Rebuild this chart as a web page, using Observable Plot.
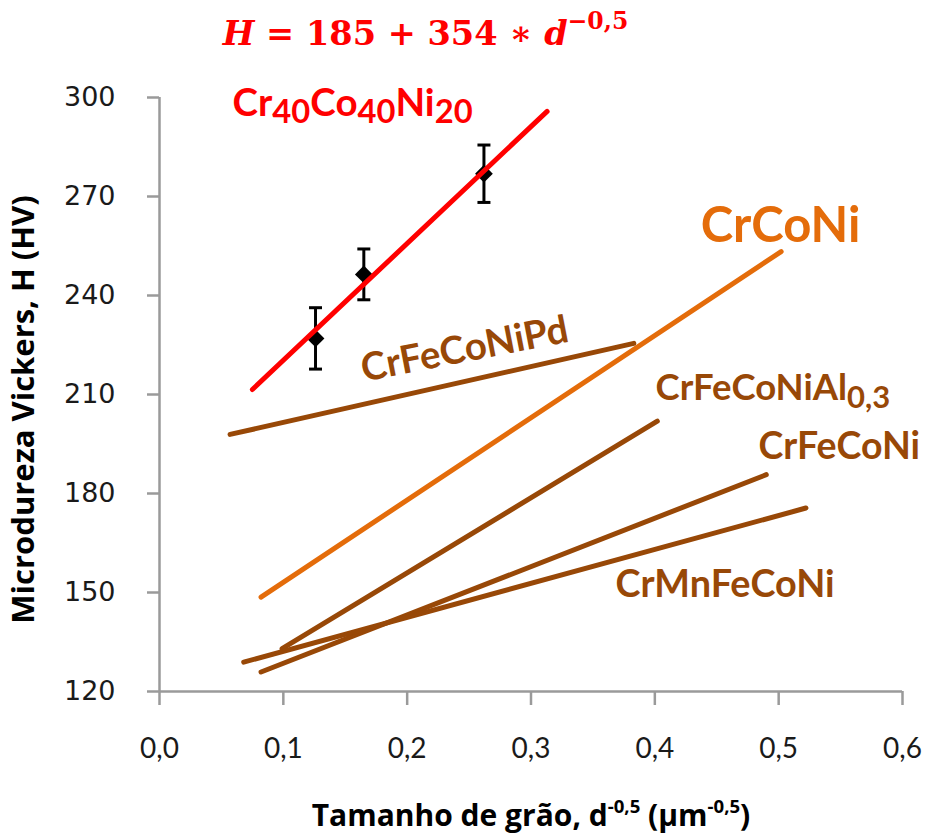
<!DOCTYPE html>
<html>
<head>
<meta charset="utf-8">
<script src="https://cdn.jsdelivr.net/npm/d3@7"></script>
<script src="https://cdn.jsdelivr.net/npm/@observablehq/plot@0.6"></script>
<style>
  html, body { margin: 0; padding: 0; background: #fff; }
  #chart svg { display: block; }
</style>
</head>
<body>
<div id="chart"></div>
<script>
// Hall–Petch fits: Vickers microhardness vs. grain size d^-0.5 for several alloys.
// Markup in strings: _{..} subscript, ^{..} superscript, ~{..} italic.

// Axis ticks
const xTicks = [0, 0.1, 0.2, 0.3, 0.4, 0.5, 0.6];
const yTicks = [120, 150, 180, 210, 240, 270, 300];

// Fitted lines, one per alloy (start and end of each segment)
const alloys = ["Cr40Co40Ni20", "CrCoNi", "CrFeCoNiPd", "CrFeCoNiAl0.3", "CrFeCoNi", "CrMnFeCoNi"];
const lineX1 = [0.075, 0.082, 0.057, 0.099, 0.082, 0.068];
const lineY1 = [211.5, 148.6, 197.9, 133.0, 125.9, 128.9];
const lineX2 = [0.313, 0.502, 0.383, 0.402, 0.490, 0.522];
const lineY2 = [295.8, 253.3, 225.5, 201.9, 185.7, 175.6];
const lineColor = ["#ff0000", "#e46c0a", "#984807", "#984807", "#984807", "#984807"];

// Measured points for Cr40Co40Ni20 with error bars
const grainX = [0.126, 0.165, 0.262];
const hardness = [227.0, 246.4, 276.9];
const hardnessErr = [9.3, 7.7, 8.7];

// Labels
const labelText = ["Cr_{40}Co_{40}Ni_{20}", "CrCoNi", "CrFeCoNiPd", "CrFeCoNiAl_{0,3}", "CrFeCoNi", "CrMnFeCoNi"];
const labelX = [0.059, 0.437, 0.165, 0.4006, 0.4838, 0.3683];
const labelY = [294.5, 256.2, 213.9, 208.2, 190.6, 148.6];
const labelRotate = [0, 0, -11, 0, 0, 0];
const labelSize = [38.5, 49, 38.5, 36.5, 37.5, 37.8];

const formula = "~{H} = 185 + 354 ∗ ~{d}^{−0,5}";
const formulaX = 0.051;
const formulaY = 315.8;

const xLabel = "Tamanho de grão, d^{-0,5} (µm^{-0,5})";
const yLabel = "Microdureza Vickers, H (HV)";

const lines = alloys.map((a, i) => ({alloy: a, x1: lineX1[i], y1: lineY1[i], x2: lineX2[i], y2: lineY2[i], color: lineColor[i]}));
const points = grainX.map((x, i) => ({x, y: hardness[i], lo: hardness[i] - hardnessErr[i], hi: hardness[i] + hardnessErr[i]}));
const labels = labelText.map((t, i) => ({text: t, x: labelX[i], y: labelY[i], rotate: labelRotate[i], size: labelSize[i], color: lineColor[i]}));

// horizontal cap symbol for error bars (half-width = r)
const capSymbol = {
  draw(context, size) {
    const r = Math.sqrt(size / Math.PI);
    context.moveTo(-r, 0);
    context.lineTo(r, 0);
  }
};

const fmt = d => d.toFixed(1).replace(".", ",");
const labelFont = "Lato, 'Open Sans', sans-serif";
const titleFont = "'Open Sans', Lato, sans-serif";
const axisGrey = "#9a9a9a";

const chart = Plot.plot({
  width: 930,
  height: 836,
  marginLeft: 159,
  marginRight: 28,
  marginTop: 97,
  marginBottom: 145,
  style: {background: "#fff", overflow: "visible"},
  x: {domain: [0, 0.6]},
  y: {domain: [120, 300]},
  marks: [
    // axes
    Plot.ruleX([0], {stroke: axisGrey, strokeWidth: 2.5}),
    Plot.ruleY([120], {stroke: axisGrey, strokeWidth: 2.5}),
    Plot.axisY({ticks: yTicks, tickSize: 12, tickPadding: 32, stroke: axisGrey, strokeWidth: 2.5,
      fill: "#1a1a1a", fontSize: 27, fontFamily: "'DejaVu Sans', sans-serif", label: null}),
    Plot.axisX({ticks: xTicks, tickSize: 14, tickPadding: 33, tickFormat: fmt, stroke: axisGrey, strokeWidth: 2.5,
      fill: "#1a1a1a", fontSize: 28, fontFamily: labelFont, label: null}),
    // axis titles
    Plot.text([xLabel], {frameAnchor: "bottom", dy: 134, lineAnchor: "bottom", textAnchor: "middle", fontSize: 30,
      fontWeight: "bold", fontFamily: titleFont, fill: "#000"}),
    Plot.text([yLabel], {frameAnchor: "left", dx: -126, dy: 15, rotate: -90, lineAnchor: "bottom", textAnchor: "middle", fontSize: 31,
      fontWeight: "bold", fontFamily: titleFont, fill: "#000"}),
    // error bars and measured points
    Plot.ruleX(points, {x: "x", y1: "lo", y2: "hi", stroke: "#000", strokeWidth: 3}),
    Plot.dot(points, {x: "x", y: "hi", symbol: capSymbol, r: 6.5, stroke: "#000", strokeWidth: 3}),
    Plot.dot(points, {x: "x", y: "lo", symbol: capSymbol, r: 6.5, stroke: "#000", strokeWidth: 3}),
    Plot.dot(points, {x: "x", y: "y", symbol: "diamond2", r: 8, fill: "#000", stroke: "none"}),
    // fitted lines
    Plot.link(lines, {x1: "x1", y1: "y1", x2: "x2", y2: "y2", stroke: "color", strokeWidth: 5, strokeLinecap: "round"}),
    // alloy labels
    ...labels.map(l => Plot.text([l], {x: "x", y: "y", text: "text", rotate: l.rotate, textAnchor: "start",
      lineAnchor: "bottom", fontSize: l.size, fontWeight: "bold", fontFamily: labelFont, fill: l.color})),
    // fit equation
    Plot.text([formula], {x: () => formulaX, y: () => formulaY, textAnchor: "start", lineAnchor: "bottom",
      fontSize: 33.6, fontWeight: "bold", fontFamily: "'DejaVu Serif', serif", fill: "#ff0000"})
  ]
});

// Turn the small markup into tspans (sub/superscripts, italics)
const SVGNS = "http://www.w3.org/2000/svg";
function enrich(el) {
  const src = el.textContent;
  if (!/[\^_~]\{/.test(src)) return;
  el.textContent = "";
  const isAxis = src.startsWith("Tamanho");
  const sup = {scale: isAxis ? 0.62 : 0.7, shift: isAxis ? 0.42 : 0.5};
  const sub = {scale: 0.85, shift: 0.2};
  let shift = 0;
  const add = (str, kind) => {
    if (!str) return;
    const t = document.createElementNS(SVGNS, "tspan");
    t.textContent = str;
    let target = 0, scale = 1;
    if (kind === "^") { target = -sup.shift; scale = sup.scale; }
    if (kind === "_") { target = sub.shift; scale = sub.scale; }
    if (kind === "~") t.setAttribute("font-style", "italic");
    if (scale !== 1) t.setAttribute("font-size", (scale * 100) + "%");
    const d = target - shift;
    if (d) t.setAttribute("dy", (d / scale).toFixed(3) + "em");
    shift = target;
    el.appendChild(t);
  };
  const re = /([\^_~])\{([^}]*)\}/g;
  let last = 0, m;
  while ((m = re.exec(src))) {
    add(src.slice(last, m.index), "");
    add(m[2], m[1]);
    last = re.lastIndex;
  }
  add(src.slice(last), "");
}
chart.querySelectorAll("text").forEach(enrich);

document.getElementById("chart").appendChild(chart);
</script>
</body>
</html>
